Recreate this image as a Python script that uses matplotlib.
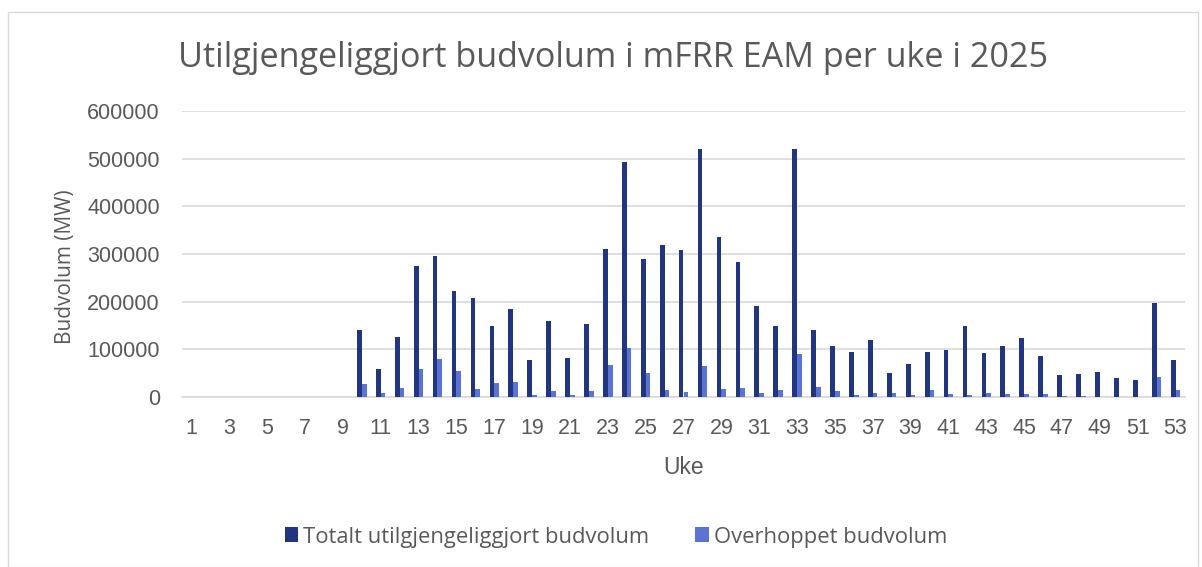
import matplotlib
matplotlib.use("Agg")
import matplotlib.pyplot as plt
from matplotlib.patches import Rectangle
import numpy as np

weeks = list(range(1, 54))
totalt = [0, 0, 0, 0, 0, 0, 0, 0, 0,
          141000, 58000, 126000, 275000, 296000, 223000, 207000, 150000, 185000, 78000,
          160000, 82000, 154000, 310000, 494000, 290000, 319000, 308000, 520000, 336000,
          283000, 190000, 148000, 521000, 140000, 108000, 94000, 120000, 50000, 69000,
          94000, 98000, 149000, 92000, 108000, 123000, 86000, 45500, 47600, 52000,
          39000, 35000, 197000, 77000]
overhoppet = [0, 0, 0, 0, 0, 0, 0, 0, 0,
              26600, 8400, 19000, 58000, 79000, 54000, 17000, 29000, 31000, 5000,
              12000, 3500, 12000, 68000, 103000, 51000, 14000, 10500, 66000, 17000,
              19500, 8000, 14000, 90000, 21600, 12600, 5000, 8000, 7700, 4000,
              14700, 7000, 5000, 7700, 7000, 7000, 5500, 2000, 2000, 300,
              1000, 300, 43000, 14000]
xtick_labels = [str(w) for w in weeks[::2]]

title = "Utilgjengeliggjort budvolum i mFRR EAM per uke i 2025"
label_total = "Totalt utilgjengeliggjort budvolum"
label_over = "Overhoppet budvolum"

plt.rcParams['font.family'] = ['Open Sans', 'DejaVu Sans']
arial = ['Liberation Sans', 'DejaVu Sans']
dark = "#22367F"
light = "#5B74D3"
txt = "#595959"

W, H = 1202, 567
fig = plt.figure(figsize=(W / 100, H / 100), dpi=100)
fig.patches.append(Rectangle((8 / W, 0), (1198 - 8) / W, 1 - 12 / H,
                             transform=fig.transFigure, fill=False,
                             edgecolor="#D9D9D9", linewidth=1))

ax = fig.add_axes([182 / W, 1 - 397 / H, (1185 - 182) / W, (397 - 111) / H])
x = np.arange(len(weeks))
bw = 0.25
ax.bar(x - bw / 2, totalt, width=bw, color=dark, label=label_total, zorder=3)
ax.bar(x + bw / 2, overhoppet, width=bw, color=light, label=label_over, zorder=3)

ax.set_xlim(-0.5, len(weeks) - 0.5)
ax.set_ylim(0, 600000)
ax.set_yticks(range(0, 600001, 100000))
ax.set_yticklabels([str(v) for v in range(0, 600001, 100000)], family=arial)
ax.set_xticks(x[::2])
ax.set_xticklabels(xtick_labels, family=arial)
ax.yaxis.grid(True, color="#D9D9D9", linewidth=1.2, zorder=0)
for s in ["top", "right", "left"]:
    ax.spines[s].set_visible(False)
ax.spines["bottom"].set_color("#D9D9D9")
ax.spines["bottom"].set_linewidth(1.2)
ax.tick_params(axis="both", length=0, labelsize=15.5, colors=txt)
ax.tick_params(axis="y", pad=16)
ax.tick_params(axis="x", pad=15)
ax.set_xlabel("Uke", fontsize=16.5, color=txt, labelpad=12, family=arial)
ax.set_ylabel("Budvolum (MW)", fontsize=15, color=txt, labelpad=8)
ax.yaxis.label.set_y(0.455)

fig.text(613 / W, 1 - 58 / H, title, fontsize=24.6, color=txt, ha="center", va="center")

fig.legend(loc="center", bbox_to_anchor=(616 / W, 1 - 537 / H), ncol=2, frameon=False,
           fontsize=15.8, labelcolor=txt, handlelength=0.6, handleheight=0.65,
           handletextpad=0.25, columnspacing=2.1)

fig.savefig("out.png", dpi=100, facecolor="white")
